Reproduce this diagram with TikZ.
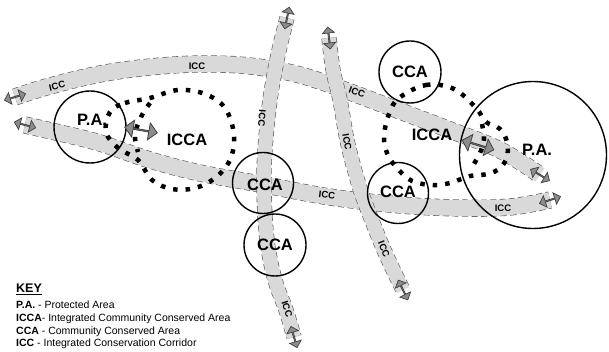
\documentclass[tikz,border=0pt]{standalone}
\usepackage{fontspec}
\setmainfont{Liberation Sans}
\usetikzlibrary{shapes.arrows}

\begin{document}
\begin{tikzpicture}[
    x=1pt, y=-1pt,
    wideband/.style={draw=gray!30, line width=16pt, preaction={draw=black!65, line width=17.2pt, dash pattern=on 6pt off 3.5pt}},
    thinband/.style={draw=gray!30, line width=14pt, preaction={draw=black!65, line width=15.2pt, dash pattern=on 6pt off 3.5pt}},
    icc/.style={font=\bfseries\fontsize{9.5}{10}\selectfont, inner sep=0pt},
    area/.style={circle, draw, line width=1.4pt, inner sep=0pt},
    zone/.style={font=\bfseries\fontsize{16.5}{18}\selectfont, inner sep=0pt},
    iccadots/.style={line width=4.5pt, dash pattern=on 4.5pt off 8pt},
    flow/.style={double arrow, draw=black!75, fill=black!45, line width=0.8pt, minimum height=33pt, minimum width=17pt, double arrow head extend=4.5pt, inner sep=0pt},
    tip/.style={double arrow, draw=black!75, fill=black!45, line width=0.7pt, minimum height=22pt, minimum width=12pt, double arrow head extend=3pt, inner sep=0pt},
    keytext/.style={anchor=west, inner sep=0pt, font=\fontsize{10.5}{12}\selectfont}
]
    \useasboundingbox (0,0) rectangle (609,352);

    % corridors
    \draw [wideband] plot [smooth, tension=0.6] coordinates {(15,97) (50,86) (100,74) (150,67) (200,64) (250,66) (300,75) (350,92) (400,111) (450,130) (500,150) (540,175)};
    \draw [wideband] plot [smooth, tension=0.6] coordinates {(25,125) (60,133) (100,143) (150,160) (200,173) (260,184) (330,197) (400,205) (460,208) (510,207) (550,200)};
    \draw [thinband] plot [smooth, tension=0.6] coordinates {(287,18) (278,55) (270,100) (265,150) (264,190) (267,240) (275,280) (286,310) (294,337)};
    \draw [thinband] plot [smooth, tension=0.6] coordinates {(329,38) (333,70) (340,100) (347,140) (356,175) (364,200) (384,250) (403,290)};

    \node [icc, rotate=13] (icc1) at (57,86) {ICC};
    \node [icc] (icc2) at (197,66) {ICC};
    \node [icc, rotate=-20] (icc3) at (357,92) {ICC};
    \node [icc, rotate=-7] (icc4) at (327,195) {ICC};
    \node [icc] (icc5) at (503,208) {ICC};
    \node [icc, rotate=-95] (icc6) at (262,118) {ICC};
    \node [icc, rotate=-72] (icc7) at (287,309) {ICC};
    \node [icc, rotate=-80] (icc8) at (347,142) {ICC};
    \node [icc, rotate=-68] (icc9) at (384,249) {ICC};

    % ICCA boundaries
    \draw [iccadots] plot [smooth cycle, tension=0.6] coordinates {(110,112) (125,103) (150,98) (178,90) (205,94) (225,108) (234,135) (230,160) (215,178) (195,188) (172,189) (152,180) (138,160) (118,148) (106,132)};
    \draw [iccadots] plot [smooth, tension=0.6] coordinates {(150,103) (141,117) (135,135) (138,152)};
    \draw [iccadots] plot [smooth cycle, tension=0.6] coordinates {(399,98) (426,85) (454,89) (476,108) (486,122) (500,129) (507,142) (507,157) (500,168) (488,174) (470,176) (450,183) (433,185) (412,181) (396,167) (387,153) (384,136) (389,114)};
    \draw [iccadots] plot [smooth, tension=0.6] coordinates {(482,124) (484,139) (480,153) (472,167)};

    % areas
    \node [area, minimum size=72pt] (pa1) at (90,127) {};
    \node [area, minimum size=147pt] (pa2) at (533,155) {};
    \node [area, minimum size=62pt] (cca1) at (410,72) {};
    \node [area, minimum size=61pt] (cca2) at (263,183) {};
    \node [area, minimum size=62pt] (cca3) at (275,245) {};
    \node [area, minimum size=61pt] (cca4) at (398,193) {};

    % exchange arrows
    \node [flow, rotate=-10] (link1) at (141,130) {};
    \node [flow, rotate=-17] (link2) at (478,145) {};
    \node [tip, rotate=17] (end1) at (15,97) {};
    \node [tip, rotate=-31] (end2) at (540,175) {};
    \node [tip, rotate=-15] (end3) at (25,125) {};
    \node [tip, rotate=18] (end4) at (550,200) {};
    \node [tip, rotate=78] (end5) at (287,18) {};
    \node [tip, rotate=-74] (end6) at (294,337) {};
    \node [tip, rotate=97] (end7) at (329,38) {};
    \node [tip, rotate=-64] (end8) at (403,290) {};

    \node [zone] (pa1txt) at (92,120) {P.A.};
    \node [zone] (pa2txt) at (537,150) {P.A.};
    \node [zone] (icca1txt) at (187,140) {ICCA};
    \node [zone] (icca2txt) at (432,135) {ICCA};
    \node [zone] (cca1txt) at (410,72) {CCA};
    \node [zone] (cca2txt) at (265,185) {CCA};
    \node [zone] (cca3txt) at (275,245) {CCA};
    \node [zone] (cca4txt) at (398,192) {CCA};

    % key
    \node [keytext, font=\bfseries\fontsize{12.5}{14}\selectfont] (key) at (16,289) {\underline{KEY}};
    \node [keytext] (key1) at (16,305) {\textbf{P.A.} - Protected Area};
    \node [keytext] (key2) at (16,319) {\textbf{ICCA}- Integrated Community Conserved Area};
    \node [keytext] (key3) at (16,332) {\textbf{CCA} - Community Conserved Area};
    \node [keytext] (key4) at (16,344) {\textbf{ICC} - Integrated Conservation Corridor};
\end{tikzpicture}
\end{document}
